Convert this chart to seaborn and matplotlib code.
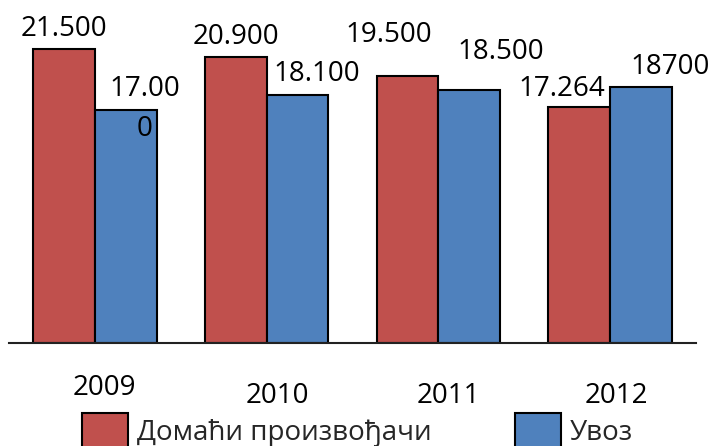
import pandas as pd
import seaborn as sns
import matplotlib.pyplot as plt
from matplotlib.patches import Patch

years = ['2009', '2010', '2011', '2012']
series = ['Домаћи произвођачи', 'Увоз']
domestic = [21500, 20900, 19500, 17264]
imports = [17000, 18100, 18500, 18700]
domestic_labels = ['21.500', '20.900', '19.500', '17.264']
import_labels = ['17.00\n0', '18.100', '18.500', '18700']

colors = ['#C0504D', '#4F81BD']

# label placement in pixels (dx from bar centre, gap above bar top to last baseline)
label_dx = [[0, 0, -19, -17], [19, 19, 31, 29]]
label_gap = [[13, 13, 34, 11], [-26, 14, 31, 13]]
year_dx = [10, 11, 10, 6]
year_drop = [52, 60, 60, 60]

df = pd.DataFrame({
    'year': years * 2,
    'value': domestic + imports,
    'series': [series[0]] * 4 + [series[1]] * 4,
})

sns.set_style('white')
plt.rcParams['font.family'] = ['Open Sans', 'DejaVu Sans']
px = 0.72  # points per pixel at dpi 100

fig = plt.figure(figsize=(7.12, 4.46), dpi=100)
ax = fig.add_axes([9 / 712, 103 / 446, 687 / 712, 342 / 446])

sns.barplot(data=df, x='year', y='value', hue='series', palette=colors,
            width=0.72, gap=0, edgecolor='black', linewidth=1.5,
            saturation=1, legend=False, ax=ax)

ax.set_ylim(0, 25000)
ax.set_xlim(-0.5, 3.5)
ax.set_xticks([])
ax.set_yticks([])
ax.set_xlabel('')
ax.set_ylabel('')
for s in ['top', 'left', 'right']:
    ax.spines[s].set_visible(False)
ax.spines['bottom'].set_color('#222222')
ax.spines['bottom'].set_linewidth(1.5)

all_labels = [domestic_labels, import_labels]
for k, cont in enumerate(ax.containers):
    for i, bar in enumerate(cont.patches):
        cx = bar.get_x() + bar.get_width() / 2
        ax.annotate(all_labels[k][i], xy=(cx, bar.get_height()),
                    xytext=(label_dx[k][i] * px, label_gap[k][i] * px),
                    textcoords='offset points', ha='center', va='baseline',
                    fontsize=20, linespacing=1.57, color='black')

for i, y in enumerate(years):
    ax.annotate(y, xy=(i, 0), xycoords=('data', 'axes fraction'),
                xytext=(year_dx[i] * px, -year_drop[i] * px),
                textcoords='offset points', ha='center', va='baseline',
                fontsize=20, color='black')

handles = [Patch(facecolor=c, edgecolor='black', linewidth=1.5) for c in colors]
fig.legend(handles, series, loc='upper left', bbox_to_anchor=(82 / 712, 1 - 413 / 446),
           ncol=2, frameon=False, fontsize=20, borderpad=0, borderaxespad=0,
           handlelength=1.65, handleheight=1.65, handletextpad=0.32,
           columnspacing=3.0)

fig.savefig('out.png', dpi=100)
